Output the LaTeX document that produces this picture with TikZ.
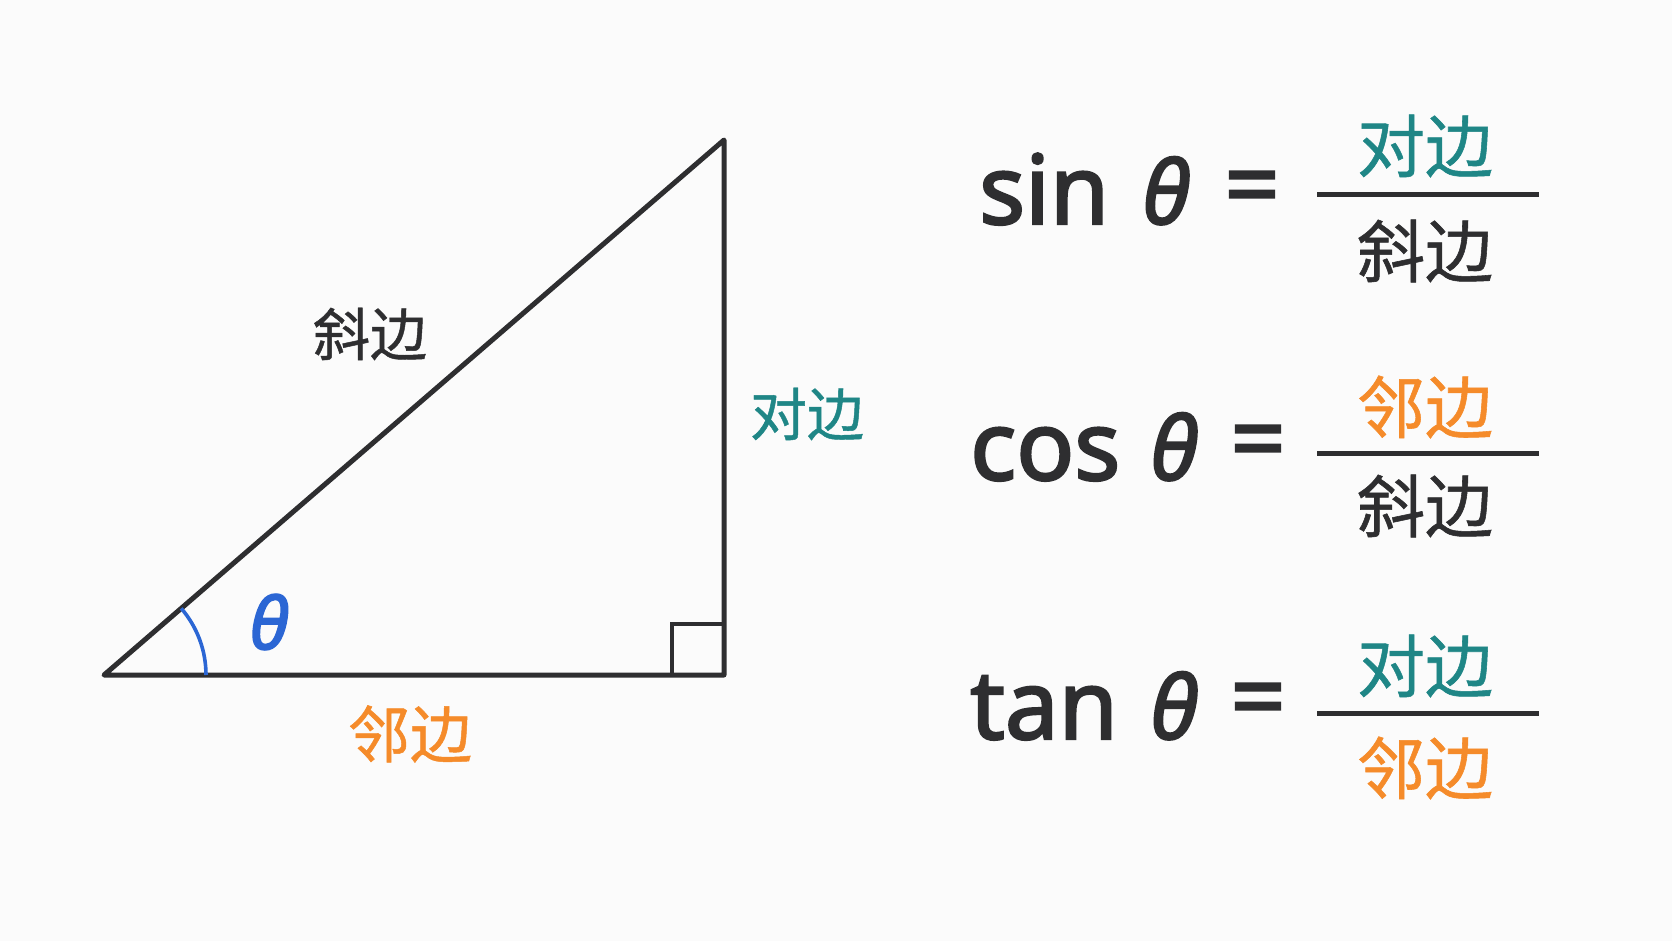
\documentclass[tikz,border=0pt]{standalone}
\usepackage{fontspec}
\setmainfont{Noto Sans}
\newfontfamily\cjk[UprightFeatures={FakeBold=0.8}]{Noto Sans CJK SC}
\newfontfamily\fnfont[UprightFeatures={FakeBold=2.4}]{Noto Sans}
\newfontfamily\thfont[UprightFont={* Italic}, UprightFeatures={FakeBold=2.4}]{Noto Sans}
\usepackage{tikz}

\definecolor{ink}{HTML}{2E2E30}
\definecolor{tealc}{HTML}{1F8686}
\definecolor{orangec}{HTML}{F58B2A}
\definecolor{bluec}{HTML}{2B66D4}
\definecolor{paper}{HTML}{FBFBFB}

\begin{document}
\begin{tikzpicture}[x=1pt,y=-1pt,
    side/.style={draw=ink, line width=5pt, line join=round, line cap=round},
    lbl/.style={inner sep=0pt, font=\cjk\fontsize{57}{62}\selectfont},
    frac/.style={inner sep=0pt, font=\cjk\fontsize{68}{72}\selectfont},
    fn/.style={inner sep=0pt, anchor=base west, text=ink, font=\fnfont\fontsize{96}{100}\selectfont},
    th/.style={inner sep=0pt, anchor=base, text=ink, font=\thfont\fontsize{88}{96}\selectfont},
    eqs/.style={inner sep=0pt, text=ink, font=\fnfont\fontsize{96}{100}\selectfont},
    bar/.style={draw=ink, line width=5pt}]
    \fill[paper] (0,0) rectangle (1672,941);
    \useasboundingbox (0,0) rectangle (1672,941);

    % triangle
    \coordinate (A) at (104,675);
    \coordinate (B) at (724,675);
    \coordinate (C) at (724,140);
    \draw[side] (A) -- (B) -- (C) -- cycle;
    \draw[draw=ink, line width=4pt] (672,675) -- (672,624) -- (724,624);
    \draw[draw=bluec, line width=3.6pt] (A) ++(102,0) arc[start angle=0, end angle=40.8, radius=102pt];

    \node at (269,622) [inner sep=0pt, text=bluec, font=\thfont\fontsize{72}{78}\selectfont] (theta) {θ};
    \node at (370,334) [lbl, text=ink] (hyp) {斜边};
    \node at (807,414) [lbl, text=tealc] (opp) {对边};
    \node at (410,734) [lbl, text=orangec, font=\cjk\fontsize{62}{66}\selectfont] (adj) {邻边};

    % sin
    \node at (979,224) [fn] (sin) {sin};
    \node at (1166,224) [th] (sinth) {θ};
    \node at (1252,195) [eqs] (sineq) {=};
    \coordinate (sinl) at (1317,195);
    \coordinate (sinr) at (1539,195);
    \draw[bar] (sinl) -- (sinr);
    \node at (1425,146) [frac, text=tealc] (sinnum) {对边};
    \node at (1425,251) [frac, text=ink] (sinden) {斜边};

    % cos
    \node at (970,480) [fn] (cos) {cos};
    \node at (1174,480) [th] (costh) {θ};
    \node at (1258,449) [eqs] (coseq) {=};
    \coordinate (cosl) at (1317,453);
    \coordinate (cosr) at (1539,453);
    \draw[bar] (cosl) -- (cosr);
    \node at (1425,407) [frac, text=orangec] (cosnum) {邻边};
    \node at (1425,506) [frac, text=ink] (cosden) {斜边};

    % tan
    \node at (970,739) [fn] (tan) {tan};
    \node at (1174,739) [th] (tanth) {θ};
    \node at (1258,707) [eqs] (taneq) {=};
    \coordinate (tanl) at (1317,713);
    \coordinate (tanr) at (1539,713);
    \draw[bar] (tanl) -- (tanr);
    \node at (1425,666) [frac, text=tealc] (tannum) {对边};
    \node at (1425,768) [frac, text=orangec] (tanden) {邻边};
\end{tikzpicture}
\end{document}
